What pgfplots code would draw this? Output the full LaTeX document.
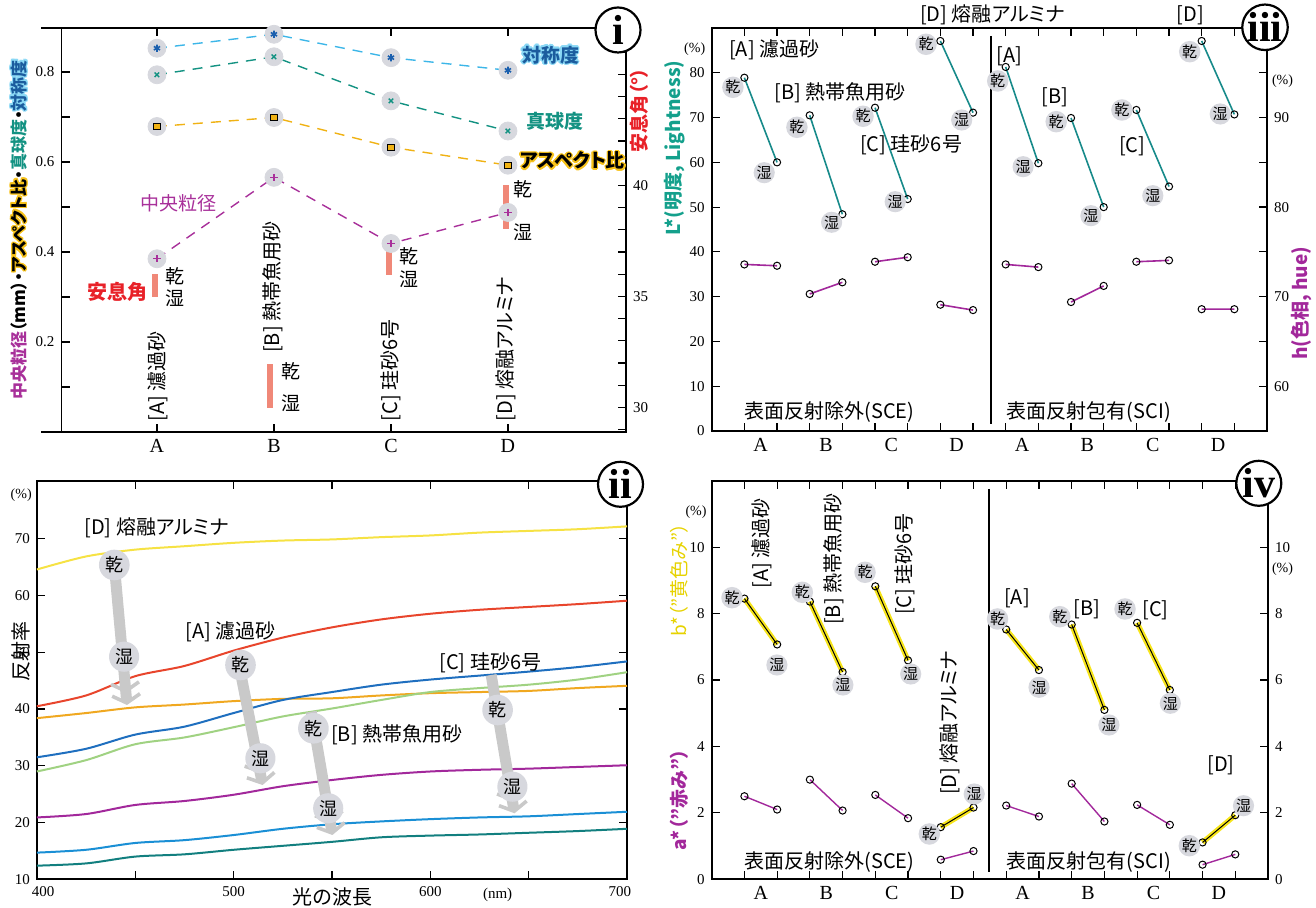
\documentclass[border=0pt]{standalone}
\usepackage{fontspec}
\setmainfont{Liberation Serif}
\newfontfamily\jp[RawFeature=+palt]{Noto Sans CJK JP}
\usepackage{pgfplots}
\usepackage{pgfplotstable}
\pgfplotsset{compat=1.18}
\usetikzlibrary{arrows.meta}

\definecolor{cTeal}{HTML}{178A8A}
\definecolor{cPur}{HTML}{A2289B}
\definecolor{cYel}{HTML}{F7E51C}
\definecolor{cBub}{HTML}{D7D8DE}
\definecolor{cSym}{HTML}{3CB6E8}
\definecolor{cSymM}{HTML}{1A5FAE}
\definecolor{cSymT}{HTML}{1B5C9E}
\definecolor{cSymG}{HTML}{8AD8F5}
\definecolor{cSph}{HTML}{139282}
\definecolor{cAsp}{HTML}{F0B214}
\definecolor{cAspG}{HTML}{F7C21A}
\definecolor{cMed}{HTML}{A8309A}
\definecolor{cRep}{HTML}{F08878}
\definecolor{cRed}{HTML}{E82128}
\definecolor{cLab}{HTML}{14A08C}
\definecolor{cBlab}{HTML}{E6D200}
\definecolor{cArr}{HTML}{C9C9C9}
\definecolor{sYel}{HTML}{F6E244}
\definecolor{sRed}{HTML}{E8452C}
\definecolor{sOra}{HTML}{F0A820}
\definecolor{sBlu}{HTML}{1F6FBF}
\definecolor{sGrn}{HTML}{A0D282}
\definecolor{sPur}{HTML}{A2289B}
\definecolor{sLbl}{HTML}{1A8FD5}
\definecolor{sTea}{HTML}{127F7F}

\pgfplotsset{
  every axis/.append style={scale only axis, clip=false,
    axis line style={line width=0.9pt},
    tick style={black, line width=0.6pt},
    major tick length=4pt, minor tick length=4pt,
    tick align=inside,
    /pgf/number format/assume math mode=true},
}

% ---------- data ----------
\pgfplotstableread{
x sym sph asp med
1 0.853 0.794 0.679 0.385
2 0.884 0.834 0.699 0.566
3 0.832 0.736 0.633 0.419
4 0.804 0.669 0.593 0.488
}\tabShape

\pgfplotstableread{
x ang
0.985 36.00
0.985 34.95
nan nan
1.965 31.95
1.965 29.95
nan nan
2.985 37.06
2.985 35.96
nan nan
3.985 40.00
3.985 38.03
}\tabRepose

\pgfplotstableread{
wl Ddry Adry Dwet Cdry Bdry Awet Cwet Bwet
400 64.6 40.5 38.4 31.5 29.0 20.9 14.7 12.4
425 66.9 42.4 39.3 33.0 31.0 21.5 15.2 12.8
450 68.1 45.8 40.3 35.5 33.8 23.1 16.4 14.0
475 68.7 47.6 40.8 36.9 35.0 23.8 16.9 14.4
500 69.3 50.3 41.4 39.3 36.8 24.9 17.8 15.2
525 69.7 52.6 41.8 41.6 38.7 26.4 18.9 15.9
550 69.9 54.4 41.9 43.0 40.1 27.5 19.7 16.6
575 70.3 55.8 42.4 44.3 41.6 28.4 20.2 17.4
600 70.6 56.8 42.8 45.2 43.0 29.0 20.6 17.7
625 71.1 57.5 43.0 45.9 43.7 29.3 20.9 17.9
650 71.4 58.0 43.2 46.6 44.3 29.5 21.1 18.2
675 71.7 58.5 43.7 47.4 45.2 29.8 21.5 18.5
700 72.2 59.1 44.1 48.4 46.5 30.1 21.9 18.9
}\tabRefl

\pgfplotstableread{
x L h
1 78.9 73.6
2 60.0 73.45
nan nan nan
3 70.5 70.3
4 48.4 71.6
nan nan nan
5 72.2 73.9
6 51.8 74.4
nan nan nan
7 87.1 69.1
8 71.1 68.5
nan nan nan
9 81.3 73.6
10 59.8 73.3
nan nan nan
11 69.9 69.4
12 50.0 71.2
nan nan nan
13 71.7 73.9
14 54.6 74.05
nan nan nan
15 87.1 68.6
16 70.7 68.6
}\tabLh

\pgfplotstableread{
x b a
1 8.45 2.50
2 7.07 2.10
nan nan nan
3 8.36 3.00
4 6.24 2.07
nan nan nan
5 8.82 2.54
6 6.59 1.84
nan nan nan
7 1.57 0.59
8 2.16 0.85
nan nan nan
9 7.52 2.22
10 6.30 1.89
nan nan nan
11 7.67 2.88
12 5.10 1.74
nan nan nan
13 7.72 2.24
14 5.70 1.64
nan nan nan
15 1.11 0.44
16 1.93 0.75
}\tabab

\tikzset{
  bub/.style={circle, fill=cBub, inner sep=0.2pt, font=\jp\fontsize{7.5}{7.5}\selectfont},
  bubL/.style={circle, fill=cBub, inner sep=1.1pt, font=\jp\fontsize{9}{9}\selectfont},
  jl/.style={inner sep=0pt, font=\jp\fontsize{10}{10}\selectfont},
  num/.style={circle, draw, line width=1.1pt, fill=white, minimum size=22.5pt, inner sep=0pt, font=\bfseries\fontsize{21}{21}\selectfont},
  oc/.style={mark=o, mark size=1.8pt, mark options={fill=white, draw=black, line width=0.5pt, solid}},
}

\newcommand{\glow}[5]{%
  \foreach \ang in {0,30,...,330}{\node[#2, text=#3] at ([shift={(\ang:0.75pt)}]#1) {#5};}
  \node[#2, text=#4] at (#1) {#5};}

\begin{document}
\begin{tikzpicture}
\useasboundingbox (0,0) rectangle (658pt,454pt);

% ================= panel i =================
\begin{axis}[at={(30.75pt,238pt)}, anchor=south west,
  width=282.25pt, height=202pt,
  xmin=0.184, xmax=5.009, ymin=28.89, ymax=47.09,
  axis x line=none, axis y line*=right,
  ytick={30,35,40},
  extra y ticks={29,31,32,33,34,36,37,38,39,41,42,43,44,45,46,47}, extra y tick labels={},
  yticklabel style={font=\fontsize{7.5}{8}\selectfont},
  unbounded coords=jump]
\addplot[cRep, line width=3pt] table[x=x,y=ang]{\tabRepose};
\end{axis}
\begin{axis}[at={(30.75pt,238pt)}, anchor=south west,
  width=282.25pt, height=202pt,
  xmin=0.184, xmax=5.009, ymin=0, ymax=0.898,
  xtick={1,2,3,4}, xticklabels={A,B,C,D}, xtick pos=both,
  ytick={0.2,0.4,0.6,0.8}, minor ytick={0.1,0.3,0.5,0.7}, ytick pos=left,
  xticklabel style={font=\fontsize{10}{10}\selectfont},
  yticklabel style={font=\fontsize{7.5}{8}\selectfont, /pgf/number format/fixed, /pgf/number format/precision=1}]
\addplot[cSym, line width=0.7pt, dash pattern=on 5pt off 4pt] table[x=x,y=sym]{\tabShape};
\addplot[cSph, line width=0.7pt, dash pattern=on 5pt off 4pt] table[x=x,y=sph]{\tabShape};
\addplot[cAsp, line width=0.7pt, dash pattern=on 5pt off 4pt] table[x=x,y=asp]{\tabShape};
\addplot[cMed, line width=0.7pt, dash pattern=on 5pt off 4pt] table[x=x,y=med]{\tabShape};
\addplot[cBub, only marks, mark=*, mark size=4.5pt, mark options={fill=cBub, draw=cBub}] table[x=x,y=sym]{\tabShape};
\addplot[cBub, only marks, mark=*, mark size=4.5pt, mark options={fill=cBub, draw=cBub}] table[x=x,y=sph]{\tabShape};
\addplot[cBub, only marks, mark=*, mark size=4.5pt, mark options={fill=cBub, draw=cBub}] table[x=x,y=asp]{\tabShape};
\addplot[cBub, only marks, mark=*, mark size=4.5pt, mark options={fill=cBub, draw=cBub}] table[x=x,y=med]{\tabShape};
\addplot[only marks, mark=asterisk, mark size=1.8pt, cSymM, mark options={line width=0.8pt}] table[x=x,y=sym]{\tabShape};
\addplot[only marks, mark=x, mark size=1.6pt, cSph, mark options={line width=0.7pt}] table[x=x,y=sph]{\tabShape};
\addplot[only marks, mark=square*, mark size=1.6pt, mark options={fill=cAsp, draw=black, line width=0.4pt}] table[x=x,y=asp]{\tabShape};
\addplot[only marks, mark=+, mark size=1.8pt, cMed, mark options={line width=0.6pt}] table[x=x,y=med]{\tabShape};
\end{axis}

% ================= panel iii =================
\begin{axis}[at={(355.85pt,238.5pt)}, anchor=south west,
  width=277.65pt, height=201.5pt,
  xmin=0, xmax=17, ymin=0, ymax=90,
  xtick={1,...,16}, xticklabels={}, xtick pos=both,
  extra x ticks={1.5,3.5,5.5,7.5,9.5,11.5,13.5,15.5},
  extra x tick labels={A,B,C,D,A,B,C,D},
  extra x tick style={major tick length=0pt, xticklabel style={font=\fontsize{10}{10}\selectfont}},
  ytick={0,10,...,80}, ytick pos=left,
  yticklabel style={font=\fontsize{7.5}{8}\selectfont},
  unbounded coords=jump]
\addplot[cTeal, line width=0.8pt, oc] table[x=x,y=L]{\tabLh};
\end{axis}
\begin{axis}[at={(355.85pt,238.5pt)}, anchor=south west,
  width=277.65pt, height=201.5pt,
  xmin=0, xmax=17, ymin=55, ymax=100,
  axis x line=none, axis y line*=right,
  ytick={60,70,80,90}, extra y ticks={65,75,85,95}, extra y tick labels={},
  yticklabel style={font=\fontsize{7.5}{8}\selectfont},
  unbounded coords=jump]
\addplot[cPur, line width=0.8pt, oc] table[x=x,y=h]{\tabLh};
\end{axis}

% ================= panel ii =================
\begin{axis}[at={(18.45pt,14.35pt)}, anchor=south west,
  width=295.05pt, height=199.15pt,
  xmin=400, xmax=700, ymin=10, ymax=80.2,
  xtick={400,500,600,700},
  xticklabels={{\makebox[0pt][l]{\hspace{-2.5pt}400}},500,600,{\makebox[0pt][r]{700\hspace{-2pt}}}},
  minor xtick={450,550,650}, xtick pos=both,
  ytick={10,20,...,70}, ytick pos=both,
  ticklabel style={font=\fontsize{7.5}{8}\selectfont}]
\addplot[sYel, line width=1pt, smooth, tension=0.5] table[x=wl,y=Ddry]{\tabRefl};
\addplot[sRed, line width=1pt, smooth, tension=0.5] table[x=wl,y=Adry]{\tabRefl};
\addplot[sOra, line width=1pt, smooth, tension=0.5] table[x=wl,y=Dwet]{\tabRefl};
\addplot[sGrn, line width=1pt, smooth, tension=0.5] table[x=wl,y=Bdry]{\tabRefl};
\addplot[sBlu, line width=1pt, smooth, tension=0.5] table[x=wl,y=Cdry]{\tabRefl};
\addplot[sPur, line width=1pt, smooth, tension=0.5] table[x=wl,y=Awet]{\tabRefl};
\addplot[sLbl, line width=1pt, smooth, tension=0.5] table[x=wl,y=Cwet]{\tabRefl};
\addplot[sTea, line width=1pt, smooth, tension=0.5] table[x=wl,y=Bwet]{\tabRefl};
\end{axis}

% ================= panel iv =================
\begin{axis}[at={(355.85pt,14.35pt)}, anchor=south west,
  width=278.15pt, height=199.3pt,
  xmin=0, xmax=17, ymin=0, ymax=12,
  xtick={1,...,16}, xticklabels={}, xtick pos=both,
  extra x ticks={1.5,3.5,5.5,7.5,9.5,11.5,13.5,15.5},
  extra x tick labels={A,B,C,D,A,B,C,D},
  extra x tick style={major tick length=0pt, xticklabel style={font=\fontsize{10}{10}\selectfont}},
  ytick={0,2,...,10}, ytick pos=left,
  yticklabel style={font=\fontsize{7.5}{8}\selectfont},
  unbounded coords=jump]
\addplot[cYel, line width=2.6pt] table[x=x,y=b]{\tabab};
\addplot[black, line width=0.5pt, oc] table[x=x,y=b]{\tabab};
\addplot[cPur, line width=0.7pt, oc] table[x=x,y=a]{\tabab};
\end{axis}
\begin{axis}[at={(355.85pt,14.35pt)}, anchor=south west,
  width=278.15pt, height=199.3pt,
  xmin=0, xmax=17, ymin=0, ymax=12,
  axis x line=none, axis y line*=right,
  ytick={0,2,...,10},
  yticklabel style={font=\fontsize{7.5}{8}\selectfont}]
\end{axis}

% ================= annotations (pixel coordinates) =================
\begin{scope}[x=0.5pt, y=-0.5pt, shift={(0pt,454pt)}]
% ---- panel i ----
\draw[line width=0.9pt] (41,28) -- (61.5,28);
\draw[line width=0.9pt] (41,432) -- (61.5,432);
\glow{550.5,55}{jl, font=\jp\bfseries\fontsize{9.5}{9.5}\selectfont}{cSymG}{cSymT}{対称度}
\node[jl, font=\jp\bfseries\fontsize{9.5}{9.5}\selectfont, text=cSph] at (554.8,121.7) {真球度};
\glow{572.5,160.7}{jl, font=\jp\bfseries\fontsize{9.5}{9.5}\selectfont}{cAspG}{black}{アスペクト比}
\node[jl, text=cMed, font=\jp\fontsize{9.5}{9.5}\selectfont] at (178.7,203.3) {中央粒径};
\node[jl, text=cRed, font=\jp\bfseries\fontsize{10}{10}\selectfont] at (117.7,291.7) {安息角};
\foreach \xx/\yd/\yw in {174.5/276/298.3, 290.5/371/403.3, 408.6/256.7/279.3, 523/189.3/232.3}{
  \node[jl, font=\jp\fontsize{9.5}{9.5}\selectfont] at (\xx,\yd) {乾};
  \node[jl, font=\jp\fontsize{9.5}{9.5}\selectfont] at (\xx,\yw) {湿};}
\node[jl, rotate=90, anchor=west] at (157.5,421.7) {[A] 濾過砂};
\node[jl, rotate=90, anchor=west] at (273.1,353.3) {[B] 熱帯魚用砂};
\node[jl, rotate=90, anchor=west] at (390.4,421.7) {[C] 珪砂6号};
\node[jl, rotate=90, anchor=west] at (506,421.7) {[D] 熔融アルミナ};
\foreach \ang in {0,30,...,330}{
  \node[jl, rotate=90, font=\jp\bfseries\fontsize{8.5}{8.5}\selectfont] at ([shift={(\ang:0.7pt)}]19,230)
   {\phantom{中央粒径（mm）・}\textcolor{cAspG}{アスペクト比}\phantom{・真球度・}\textcolor{cSymG}{対称度}};}
\node[jl, rotate=90, font=\jp\bfseries\fontsize{8.5}{8.5}\selectfont] at (19,230)
   {\textcolor{cMed}{中央粒径}（mm）・アスペクト比・\textcolor{cSph}{真球度}・\textcolor{cSymT}{対称度}};
\node[jl, rotate=90, text=cRed, font=\jp\bfseries\fontsize{9.5}{9.5}\selectfont] at (639.5,110) {安息角（°）};
\node[num] at (618,30) {i};

% ---- panel iii ----
\draw[line width=1pt] (990.5,36) -- (990.5,424);
\node[jl] at (774.3,50) {[A] 濾過砂};
\node[jl] at (840,92.7) {[B] 熱帯魚用砂};
\node[jl] at (911.1,145) {[C] 珪砂6号};
\node[jl] at (992.4,15) {[D] 熔融アルミナ};
\node[jl] at (1009.4,56) {[A]};
\node[jl] at (1054.7,97.7) {[B]};
\node[jl] at (1132.2,146.7) {[C]};
\node[jl] at (1190.6,15) {[D]};
\node[jl] at (829.4,412.3) {表面反射除外(SCE)};
\node[jl] at (1089,412.3) {表面反射包有(SCI)};
\node[font=\fontsize{7}{7}\selectfont, inner sep=0pt] at (694.7,49.3) {(\%)};
\node[font=\fontsize{7}{7}\selectfont, inner sep=0pt] at (1282.5,81) {(\%)};
\node[jl, rotate=90, text=cLab, font=\jp\bfseries\fontsize{9.5}{9.5}\selectfont] at (674.8,148.3) {L*(明度, Lightness)};
\node[jl, rotate=90, text=cPur, font=\jp\bfseries\fontsize{9.5}{9.5}\selectfont] at (1301.5,303.3) {h(色相, hue)};
\foreach \xx/\yy/\tt in {732.9/87.3/乾, 764.2/172.7/湿, 796.9/127.3/乾, 831.6/222.3/湿,
   863/116.3/乾, 895.2/201.7/湿, 926/44.3/乾, 961.7/120/湿,
   997.7/81/乾, 1023.1/166.7/湿, 1056.2/121.7/乾, 1090.9/215.7/湿,
   1121.9/110/乾, 1152.8/195.7/湿, 1189.7/51.7/乾, 1220.2/114/湿}{
  \node[bub] at (\xx,\yy) {\tt};}
\node[num] at (1265,27.3) {iii};

% ---- panel ii ----
\foreach \xa/\ya/\xb/\yb in {114.3/565/127/705, 237.1/655/262.6/785, 311.3/711.7/332.4/835, 491.2/675/514.5/813.3}{
  \draw[cArr, line width=5.5pt,
   -{Straight Barb[length=4pt,width=14pt,line width=1.8pt] Straight Barb[length=4pt,width=14pt,line width=1.8pt]}]
   (\xa,\ya) -- (\xb,\yb);}
\foreach \xx/\yy/\tt in {114.3/565/乾, 124.1/656.7/湿, 240.5/665/乾, 260.4/758.3/湿,
   313.4/728.3/乾, 328.2/808.3/湿, 497.6/710/乾, 512.4/786.7/湿}{
  \node[bubL] at (\xx,\yy) {\tt};}
\node[jl] at (156.7,527.7) {[D] 熔融アルミナ};
\node[jl] at (230.8,631.7) {[A] 濾過砂};
\node[jl] at (490.4,663.3) {[C] 珪砂6号};
\node[jl] at (396.8,735) {[B] 熱帯魚用砂};
\node[font=\fontsize{7}{7}\selectfont, inner sep=0pt] at (21.2,495) {(\%)};
\node[jl] at (332.6,896.7) {光の波長};
\node[font=\fontsize{7.5}{7.5}\selectfont, inner sep=0pt] at (497.6,895) {(nm)};
\node[jl, rotate=90] at (21,652) {反射率};
\node[num] at (620.5,484.3) {ii};

% ---- panel iv ----
\draw[line width=1pt] (988.5,489) -- (988.5,871.7);
\node[jl, rotate=90] at (761.6,543.3) {[A] 濾過砂};
\node[jl, rotate=90] at (833.6,559.3) {[B] 熱帯魚用砂};
\node[jl, rotate=90] at (904.8,564) {[C] 珪砂6号};
\node[jl, rotate=90] at (950.1,722.7) {[D] 熔融アルミナ};
\node[jl] at (1017,598.3) {[A]};
\node[jl] at (1086.9,609.3) {[B]};
\node[jl] at (1155.5,610) {[C]};
\node[jl] at (1221.1,765.7) {[D]};
\node[jl] at (829.4,862.3) {表面反射除外(SCE)};
\node[jl] at (1089,862.3) {表面反射包有(SCI)};
\node[font=\fontsize{7}{7}\selectfont, inner sep=0pt] at (696,511.7) {(\%)};
\node[font=\fontsize{7}{7}\selectfont, inner sep=0pt] at (1282.5,569.3) {(\%)};
\node[jl, rotate=90, text=cBlab, font=\jp\fontsize{9.5}{9.5}\selectfont] at (679,580) {b*（”黄色み”）};
\node[jl, rotate=90, text=cPur, font=\jp\bfseries\fontsize{9.5}{9.5}\selectfont] at (679,800) {a*（”赤み”）};
\foreach \xx/\yy/\tt in {732/597.7/乾, 776.9/665/湿, 802.3/592.3/乾, 842.9/685/湿,
   865/572.3/乾, 910.7/674/湿, 929.3/834/乾, 974.2/794/湿,
   997.5/619/乾, 1039/687.3/湿, 1059.8/616.7/乾, 1108.9/725/湿,
   1125/609/乾, 1170.3/703.3/湿, 1189.3/845.7/乾, 1243.5/805.7/湿}{
  \node[bub] at (\xx,\yy) {\tt};}
\node[num] at (1258.8,483.3) {iv};
\end{scope}
\end{tikzpicture}
\end{document}
